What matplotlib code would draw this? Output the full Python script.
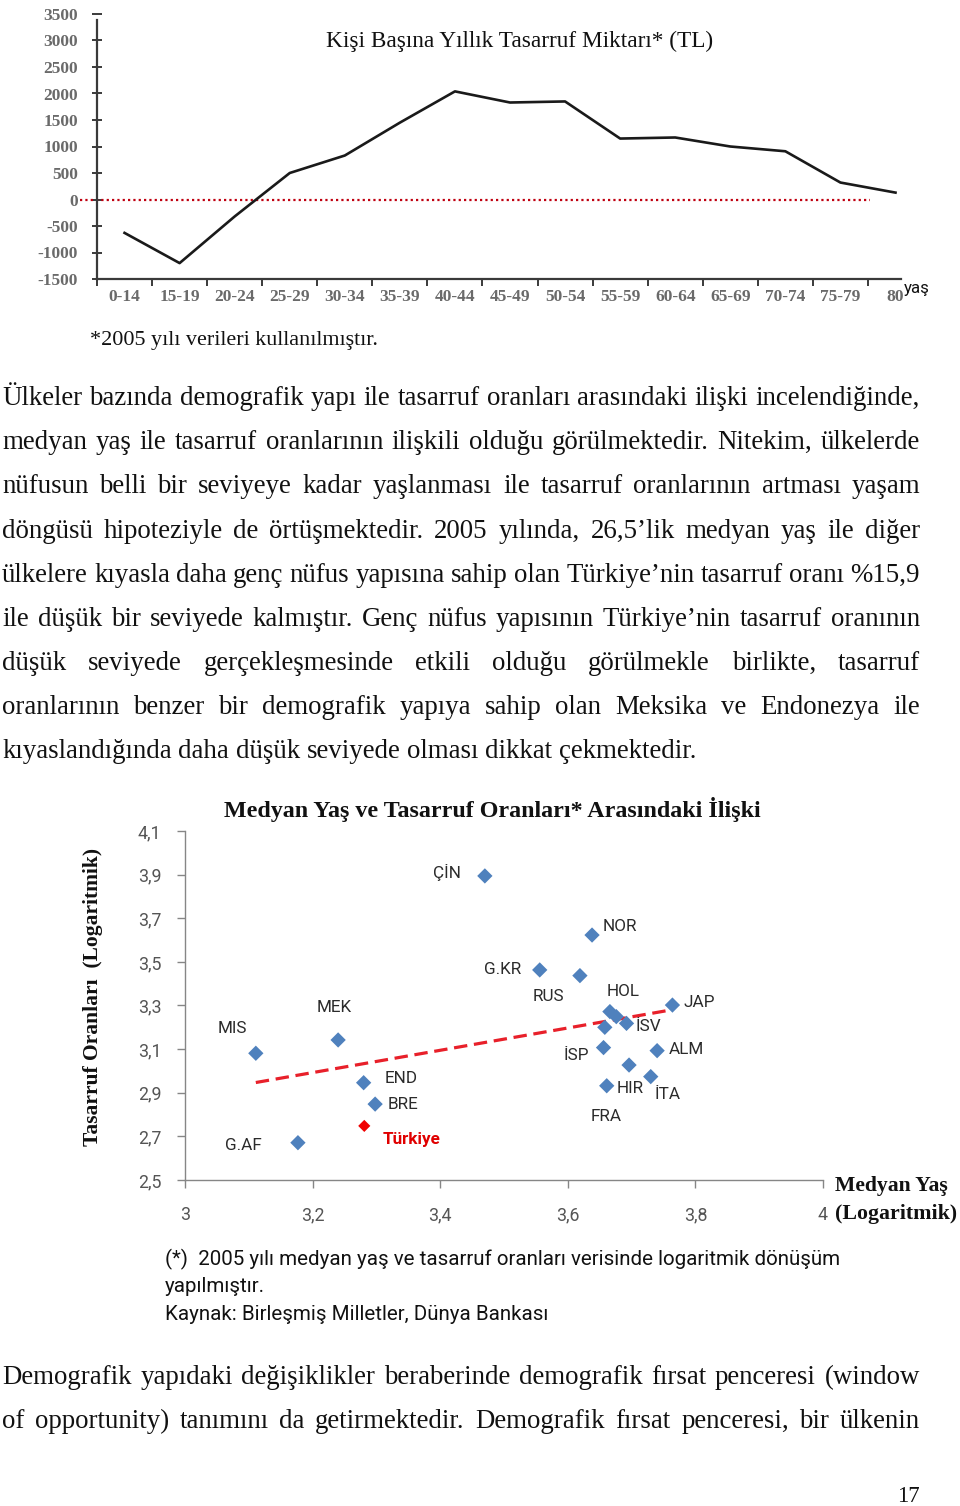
import matplotlib
matplotlib.use("Agg")
import matplotlib.pyplot as plt
from matplotlib.ticker import FixedLocator, FuncFormatter
import numpy as np

W, H = 960, 1506

# ---------------- data: top chart ----------------
age_groups = ['0-14', '15-19', '20-24', '25-29', '30-34', '35-39', '40-44',
              '45-49', '50-54', '55-59', '60-64', '65-69', '70-74', '75-79', '80']
savings_tl = [-630, -1200, -320, 500, 830, 1450, 2040, 1830, 1850, 1150,
              1170, 1000, 910, 320, 130]
savings_yticks = [-1500, -1000, -500, 0, 500, 1000, 1500, 2000, 2500, 3000, 3500]

# ---------------- data: scatter chart ----------------
countries = ['MIS', 'MEK', 'G.AF', 'END', 'BRE', 'Türkiye', 'ÇİN', 'G.KR', 'RUS',
             'NOR', 'HOL', '', 'İSV', '', 'İSP', 'JAP', 'ALM', 'FRA', 'İTA', 'HIR']
median_age_log = [3.111, 3.240, 3.177, 3.280, 3.298, 3.281, 3.470, 3.556, 3.619,
                  3.638, 3.666, 3.676, 3.692, 3.658, 3.656, 3.764, 3.740, 3.696,
                  3.730, 3.661]
saving_rate_log = [3.081, 3.142, 2.671, 2.946, 2.848, 2.748, 3.894, 3.463, 3.437,
                   3.623, 3.272, 3.249, 3.218, 3.200, 3.107, 3.302, 3.093, 3.027,
                   2.974, 2.932]
scatter_xticks = [3.0, 3.2, 3.4, 3.6, 3.8, 4.0]
scatter_yticks = [2.5, 2.7, 2.9, 3.1, 3.3, 3.5, 3.7, 3.9, 4.1]

# label offsets (pixels, right / down) -- styling only
label_offsets = {
    'ÇİN': (-38, -3), 'G.KR': (-37, 0), 'MIS': (-23, -25), 'MEK': (-4, -32),
    'END': (37, -4), 'BRE': (28, 0), 'Türkiye': (47, 14), 'G.AF': (-55, 3),
    'NOR': (28, -9), 'RUS': (-31, 21), 'HOL': (13, -20), 'JAP': (27, -3),
    'İSV': (22, 3), 'ALM': (29, -1), 'İSP': (-27, 8), 'HIR': (23, 3),
    'İTA': (17, 18), 'FRA': (-23, 51),
}

# ---------------- text ----------------
para1 = [
    "Ülkeler bazında demografik yapı ile tasarruf oranları arasındaki ilişki incelendiğinde,",
    "medyan yaş ile tasarruf oranlarının ilişkili olduğu görülmektedir. Nitekim, ülkelerde",
    "nüfusun belli bir seviyeye kadar yaşlanması ile tasarruf oranlarının artması yaşam",
    "döngüsü hipoteziyle de örtüşmektedir. 2005 yılında, 26,5’lik medyan yaş ile diğer",
    "ülkelere kıyasla daha genç nüfus yapısına sahip olan Türkiye’nin tasarruf oranı %15,9",
    "ile düşük bir seviyede kalmıştır. Genç nüfus yapısının Türkiye’nin tasarruf oranının",
    "düşük seviyede gerçekleşmesinde etkili olduğu görülmekle birlikte, tasarruf",
    "oranlarının benzer bir demografik yapıya sahip olan Meksika ve Endonezya ile",
    "kıyaslandığında daha düşük seviyede olması dikkat çekmektedir.",
]
para2 = [
    "Demografik yapıdaki değişiklikler beraberinde demografik fırsat penceresi (window",
    "of opportunity) tanımını da getirmektedir. Demografik fırsat penceresi, bir ülkenin",
]

SERIF = 'Liberation Serif'
SANS = 'Roboto'

fig = plt.figure(figsize=(W / 100, H / 100), dpi=100)
fig.patch.set_facecolor('white')
renderer = fig.canvas.get_renderer()


def fx(x):
    return x / W


def fy(y):
    return 1 - y / H


def fit_text(s, x0, x1, yc, family, size0=12, weight='normal', color='#111111'):
    t = fig.text(fx(x0), fy(yc), s, fontsize=size0, family=family, weight=weight,
                 color=color, ha='left', va='center')
    bb = t.get_window_extent(renderer)
    t.set_fontsize(size0 * (x1 - x0) / bb.width)
    return t


def word_width(w, size, family):
    t = fig.text(0, 0, w, fontsize=size, family=family)
    wd = t.get_window_extent(renderer).width
    t.remove()
    return wd


def justify_line(line, x0, x1, yc, size, family=SERIF, last=False, color='#111111'):
    words = line.split(' ')
    base = fy(yc + 0.30 * size * 100 / 72)
    texts = [fig.text(0, base, w, fontsize=size, family=family, color=color,
                      ha='left', va='baseline') for w in words]
    widths = [t.get_window_extent(renderer).width for t in texts]
    if last or len(words) == 1:
        gap = word_width('a a', size, family) - word_width('aa', size, family)
    else:
        gap = (x1 - x0 - sum(widths)) / (len(words) - 1)
    x = x0
    for t, wd in zip(texts, widths):
        t.set_x(fx(x))
        x += wd + gap


# ---------------- top chart ----------------
ax1 = fig.add_axes([fx(97), fy(279), fx(901) - fx(97), fy(14) - fy(279)])
centers = np.arange(len(age_groups)) + 0.5
ax1.plot(centers, savings_tl, color='#1a1a1a', lw=1.9, solid_joinstyle='round', zorder=3)
ax1.axhline(0, xmin=-0.021, xmax=0.961, color='#c00010', lw=1.6,
            linestyle=(0, (1, 1.4)), clip_on=False, zorder=2)
ax1.set_xlim(0, 14.6)
ax1.set_ylim(-1500, 3500)
for sp in ['top', 'right']:
    ax1.spines[sp].set_visible(False)
for sp in ['left', 'bottom']:
    ax1.spines[sp].set_color('#3a3a3a')
    ax1.spines[sp].set_linewidth(1.6)
ax1.spines['left'].set_bounds(-1500, 3380)
ax1.xaxis.set_major_locator(FixedLocator(np.arange(0, 15)))
ax1.xaxis.set_minor_locator(FixedLocator(centers))
ax1.set_xticklabels([], minor=False)
ax1.set_xticklabels(age_groups, minor=True)
ax1.tick_params(axis='x', which='major', direction='out', length=5, width=1.4,
                color='#3a3a3a')
ax1.tick_params(axis='x', which='minor', length=0, pad=7, labelsize=12.5,
                labelcolor='#6a6a6a')
ax1.set_yticks(savings_yticks)
ax1.set_yticklabels([str(v) for v in savings_yticks])
ax1.tick_params(axis='y', direction='inout', length=7, width=1.4, color='#3a3a3a',
                labelsize=12.5, labelcolor='#6a6a6a', pad=10)
for lab in ax1.get_xticklabels(minor=True) + ax1.get_yticklabels():
    lab.set_family(SERIF)
    lab.set_weight('bold')

fit_text("Kişi Başına Yıllık Tasarruf Miktarı* (TL)", 326, 714, 41, SERIF, 15)
fit_text("yaş", 904, 930, 289, SANS, 12)
fit_text("*2005 yılı verileri kullanılmıştır.", 90, 378, 340, SERIF, 12)

# ---------------- paragraph 1 ----------------
t = fig.text(0, 0, para1[0], fontsize=17, family=SERIF)
body_size = 17 * 918 / t.get_window_extent(renderer).width
t.remove()
y0 = 397
for i, line in enumerate(para1):
    justify_line(line, 2, 920, y0 + i * 44.15, body_size, last=(i == len(para1) - 1))

# ---------------- scatter chart ----------------
ax2 = fig.add_axes([fx(185), fy(1180), fx(823) - fx(185), fy(831) - fy(1180)])
xs = np.array(median_age_log)
ys = np.array(saving_rate_log)
is_tr = np.array([c == 'Türkiye' for c in countries])
ax2.scatter(xs[~is_tr], ys[~is_tr], marker='D', s=7.8 ** 2, color='#4F81BD',
            edgecolors='none', zorder=3, clip_on=False)
ax2.scatter(xs[is_tr], ys[is_tr], marker='D', s=6.2 ** 2, color='#F00000',
            edgecolors='none', zorder=3, clip_on=False)
coef = np.polyfit(xs, ys, 1)
tx = np.array([xs.min(), xs.max()])
ax2.plot(tx, np.polyval(coef, tx), color='#E8202A', lw=2.3, dashes=(4.2, 2.1),
         zorder=2)
for name, x, y in zip(countries, xs, ys):
    if not name:
        continue
    dx, dy = label_offsets[name]
    red = name == 'Türkiye'
    ax2.annotate(name, (x, y), xytext=(dx * 0.72, -dy * 0.72), textcoords='offset points',
                 ha='center', va='center', fontsize=12.3, family=SANS,
                 color='#E00000' if red else '#2b2b2b',
                 weight='bold' if red else 'normal', annotation_clip=False)
ax2.set_xlim(3, 4)
ax2.set_ylim(2.5, 4.1)
for sp in ['top', 'right']:
    ax2.spines[sp].set_visible(False)
for sp in ['left', 'bottom']:
    ax2.spines[sp].set_color('#868686')
    ax2.spines[sp].set_linewidth(1.0)
ax2.set_xticks(scatter_xticks)
ax2.set_yticks(scatter_yticks)
comma = FuncFormatter(lambda v, p: ('%g' % round(v, 1)).replace('.', ','))
ax2.xaxis.set_major_formatter(comma)
ax2.yaxis.set_major_formatter(comma)
ax2.tick_params(axis='both', direction='out', length=6, width=1.0, color='#868686',
                labelsize=12.8, labelcolor='#555555')
ax2.tick_params(axis='x', pad=13)
ax2.tick_params(axis='y', pad=11)
for lab in ax2.get_xticklabels() + ax2.get_yticklabels():
    lab.set_family(SANS)

fit_text("Medyan Yaş ve Tasarruf Oranları* Arasındaki İlişki", 224, 760, 809, SERIF, 16,
         weight='bold')
yl = fig.text(fx(93), fy(997), "Tasarruf Oranları  (Logaritmik)", rotation=90,
              fontsize=15, family=SERIF, weight='bold', color='#111111',
              ha='center', va='center')
yl.set_fontsize(15 * 298 / yl.get_window_extent(renderer).height)
fit_text("Medyan Yaş", 835, 948, 1186, SERIF, 14, weight='bold')
fit_text("(Logaritmik)", 835, 957, 1214, SERIF, 14, weight='bold')

# ---------------- footnotes ----------------
fn = fit_text("(*)  2005 yılı medyan yaş ve tasarruf oranları verisinde logaritmik dönüşüm",
              165, 840, 1259, SANS, 13)
fig.text(fx(165), fy(1287), "yapılmıştır.", fontsize=fn.get_fontsize(), family=SANS,
         color='#111111', ha='left', va='center')
fig.text(fx(165), fy(1315), "Kaynak: Birleşmiş Milletler, Dünya Bankası",
         fontsize=fn.get_fontsize(), family=SANS, color='#111111', ha='left', va='center')

# ---------------- paragraph 2 ----------------
for i, line in enumerate(para2):
    justify_line(line, 2, 920, 1376 + i * 44.15, body_size)

fig.text(fx(920), fy(1496), "17", fontsize=body_size * 0.85, family=SERIF,
         color='#111111', ha='right', va='center')

fig.savefig('out.png', dpi=100, facecolor='white')
